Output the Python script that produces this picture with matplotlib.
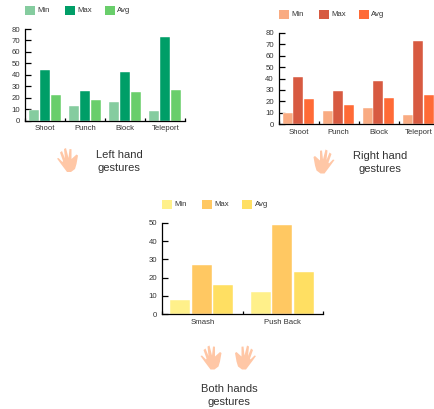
# -*- coding: utf-8 -*-
"""Gesture timing bars: left hand, right hand, both hands."""
import matplotlib
matplotlib.use("Agg")
import matplotlib.pyplot as plt
from matplotlib.patches import Polygon, Rectangle

plt.rcParams.update({
    "font.family": ["Liberation Sans", "DejaVu Sans"],
    "axes.unicode_minus": False,
})

W, H = 435, 409
SERIES = ["Min", "Max", "Avg"]

left_cats = ["Shoot", "Punch", "Block", "Teleport"]
left_min = [9, 13, 16, 8]
left_max = [44, 26, 42, 73]
left_avg = [22, 18, 25, 27]
left_colors = ["#85CC9F", "#009E67", "#69CE6B"]

right_cats = ["Shoot", "Punch", "Block", "Teleport"]
right_min = [10, 12, 14, 8]
right_max = [41, 29, 38, 73]
right_avg = [22, 17, 23, 26]
right_colors = ["#F9AB82", "#D75A41", "#FF6A36"]

both_cats = ["Smash", "Push Back"]
both_min = [8, 12]
both_max = [27, 49]
both_avg = [16, 23]
both_colors = ["#FFF08A", "#FFC862", "#FFDF62"]

# hand outline in pixels, thumb on the left, fingers up
HAND = [(0, 10.5), (1.5, 10), (5.5, 14), (6, 13), (3, 4.5), (5, 3), (8, 10.5), (7, 1), (9, 0),
        (11.5, 10), (12.5, 1), (14.5, 1.2), (14.5, 11), (19.5, 6.5), (21, 7.5), (19.5, 16),
        (18, 21), (14, 24), (10, 24), (7, 20), (4, 16)]


def bars(fig, box, cats, vals, colors, ymax, step):
    """box = (left, top of ymax, right, baseline) in picture pixels."""
    x0, y1, x1, y0 = box
    ax = fig.add_axes([x0 / W, 1 - y0 / H, (x1 - x0) / W, (y0 - y1) / H])
    ax.patch.set_alpha(0)
    frac = 0.8 / 3
    for i, (series, color) in enumerate(zip(vals, colors)):
        pos = [c + 0.1 + frac * i for c in range(len(cats))]
        ax.bar(pos, series, width=frac * 0.94, align="edge", color=color,
               edgecolor="white", linewidth=0.3, zorder=2)
    ax.set_xlim(0, len(cats))
    ax.set_ylim(0, ymax)
    ax.set_yticks(range(0, ymax + 1, step))
    ax.set_xticks(range(len(cats) + 1))
    ax.set_xticklabels([])
    ax.set_xticks([c + 0.5 for c in range(len(cats))], cats, minor=True)
    ax.tick_params(axis="y", direction="in", length=4, width=0.9, labelsize=5.6,
                   pad=3.5, labelcolor="#333333")
    ax.tick_params(axis="x", which="major", direction="in", length=2.5, width=0.9)
    ax.tick_params(axis="x", which="minor", length=0, labelsize=5.6, pad=3.5, labelcolor="#333333")
    ax.spines["top"].set_visible(False)
    ax.spines["right"].set_visible(False)
    ax.spines["left"].set_linewidth(0.9)
    ax.spines["bottom"].set_linewidth(0.9)
    return ax


fig = plt.figure(figsize=(W / 100, H / 100), dpi=100, facecolor="white")

bars(fig, (25.3, 29, 185.3, 120.5), left_cats, [left_min, left_max, left_avg], left_colors, 80, 10)
bars(fig, (278.7, 32.7, 438.7, 124.3), right_cats, [right_min, right_max, right_avg], right_colors, 80, 10)
bars(fig, (162.3, 222.7, 323, 314.3), both_cats, [both_min, both_max, both_avg], both_colors, 50, 10)

# overlay in picture pixels for legends, icons and captions
over = fig.add_axes([0, 0, 1, 1])
over.set_xlim(0, W)
over.set_ylim(H, 0)
over.axis("off")


def legend(x, y, colors):
    for i, (name, color) in enumerate(zip(SERIES, colors)):
        sx = x + i * 40
        over.add_patch(Rectangle((sx, y), 10, 8.5, color=color, lw=0))
        over.text(sx + 12.3, y + 4.4, name, fontsize=5.6, color="#333333", va="center")


def hand(x, y, mirror=False):
    pts = [(x + (21 - a if mirror else a), y + b) for a, b in HAND]
    over.add_patch(Polygon(pts, closed=True, fc="#FFC7A6", ec="none"))


def caption(x, y, lines):
    for i, line in enumerate(lines):
        over.text(x, y + i * 13, line, fontsize=8.0, color="#333333", ha="center", va="center")


legend(25, 6.2, left_colors)
legend(278.7, 10.2, right_colors)
legend(162.3, 200.3, both_colors)

hand(57, 148)
hand(313.5, 149.5, mirror=True)
hand(200.5, 345.5)
hand(235, 345.5, mirror=True)

caption(119, 155, ["Left hand", "gestures"])
caption(380, 156, ["Right hand", "gestures"])
caption(229, 389, ["Both hands", "gestures"])

fig.savefig("out.png", dpi=100)
